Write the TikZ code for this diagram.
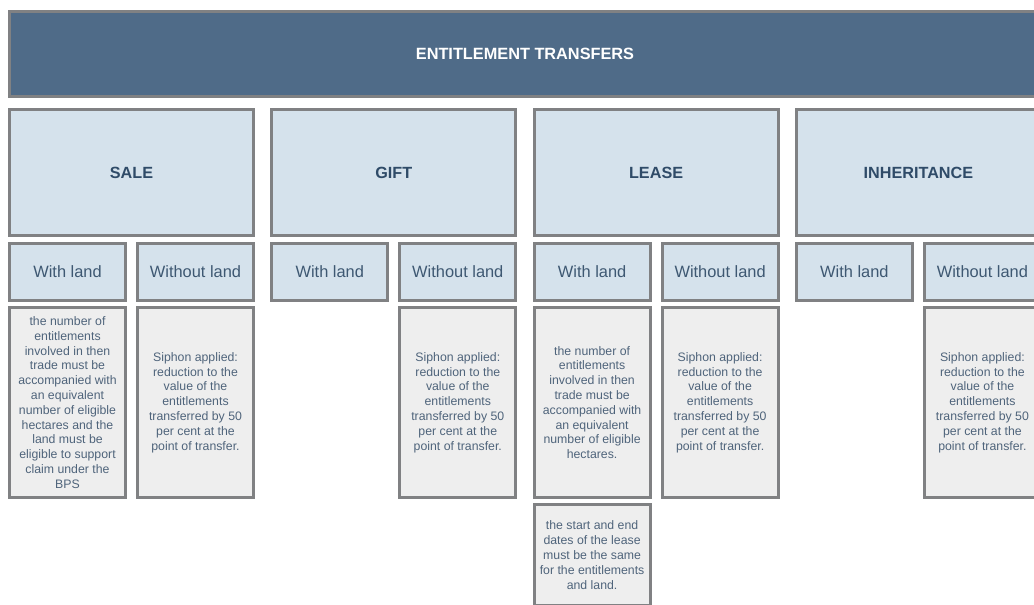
\documentclass[tikz,border=0pt]{standalone}
\usepackage{fontspec}
\setmainfont{Liberation Sans}
\usetikzlibrary{positioning}
\definecolor{bannerblue}{HTML}{4F6B88}
\definecolor{catblue}{HTML}{D5E2EC}
\definecolor{notegray}{HTML}{EEEEEE}
\definecolor{framegray}{HTML}{808183}
\definecolor{headtext}{HTML}{2F4B68}
\definecolor{subtext}{HTML}{3E5872}
\definecolor{notetext}{HTML}{4F647B}
\tikzset{
  box/.style={draw=framegray, line width=3pt, inner sep=0pt, align=center},
  banner/.style={box, fill=bannerblue, text=white,
    font=\bfseries\fontsize{16.3}{19}\selectfont,
    minimum width=1031, minimum height=85},
  catbox/.style={box, fill=catblue, text=headtext,
    font=\bfseries\fontsize{16.2}{19}\selectfont,
    minimum width=244, minimum height=126},
  subbox/.style={box, fill=catblue, text=subtext,
    font=\fontsize{16.4}{19}\selectfont,
    minimum width=116, minimum height=57},
  notebox/.style={box, fill=notegray, text=notetext,
    font=\fontsize{12.3}{14.8}\selectfont,
    minimum width=116, minimum height=190},
}
\begin{document}
\begin{tikzpicture}[x=1pt, y=-1pt]
    \useasboundingbox (0,0) rectangle (1034,605);
    \clip (0,0) rectangle (1034,605);
    % Banner
    \node[banner, anchor=north west] (transfers) at (8,10) {ENTITLEMENT TRANSFERS};
    % Transfer types and their two cases
    \foreach \name/\txt [count=\i from 0] in {sale/SALE, gift/GIFT, lease/LEASE, inh/INHERITANCE} {
        \pgfmathsetmacro\xo{8+262.3*\i}
        \node[catbox, anchor=north west] (\name) at (\xo,108) {\txt};
        \node[subbox, anchor=north west] (\name-with) at (\xo,242) {With land};
        \node[subbox, anchor=north west] (\name-without) at (\xo+128,242) {Without land};
    }
    % Conditions
    \node[notebox, below=4pt of sale-with] (sale-with-note)
        {the number of\\ entitlements\\ involved in then\\ trade must be\\ accompanied with\\ an equivalent\\ number of eligible\\ hectares and the\\ land must be\\ eligible to support\\ claim under the\\ BPS};
    \node[notebox, below=4pt of sale-without] (sale-without-note)
        {Siphon applied:\\ reduction to the\\ value of the\\ entitlements\\ transferred by 50\\ per cent at the\\ point of transfer.};
    \node[notebox, below=4pt of gift-without] (gift-without-note)
        {Siphon applied:\\ reduction to the\\ value of the\\ entitlements\\ transferred by 50\\ per cent at the\\ point of transfer.};
    \node[notebox, below=4pt of lease-with] (lease-with-note)
        {the number of\\ entitlements\\ involved in then\\ trade must be\\ accompanied with\\ an equivalent\\ number of eligible\\ hectares.};
    \node[notebox, below=4pt of lease-without] (lease-without-note)
        {Siphon applied:\\ reduction to the\\ value of the\\ entitlements\\ transferred by 50\\ per cent at the\\ point of transfer.};
    \node[notebox, below=4pt of inh-without] (inh-without-note)
        {Siphon applied:\\ reduction to the\\ value of the\\ entitlements\\ transferred by 50\\ per cent at the\\ point of transfer.};
    \node[notebox, minimum height=101, below=4pt of lease-with-note] (lease-dates-note)
        {the start and end\\ dates of the lease\\ must be the same\\ for the entitlements\\ and land.};
\end{tikzpicture}
\end{document}
